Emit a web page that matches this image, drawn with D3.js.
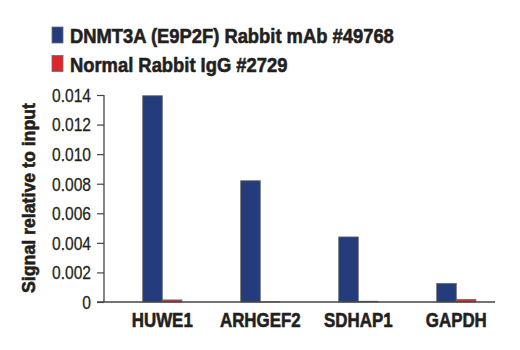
<!DOCTYPE html>
<html>
<head>
<meta charset="utf-8">
<script src="https://cdn.jsdelivr.net/npm/d3@7"></script>
<style>
  body { margin: 0; background: #fff; }
  svg { display: block; }
</style>
</head>
<body>
<svg width="520" height="350"></svg>
<script>
const categories = ["HUWE1", "ARHGEF2", "SDHAP1", "GAPDH"];
const seriesNames = ["DNMT3A (E9P2F) Rabbit mAb #49768", "Normal Rabbit IgG #2729"];
const dnmt3a = [0.01395, 0.0082, 0.0044, 0.00126];
const igg = [0.00014, 0.00001, 0.00005, 0.00018];
const yTicks = [0, 0.002, 0.004, 0.006, 0.008, 0.010, 0.012, 0.014];
const colors = ["#243c7c", "#e1262b"];

const font = "'Liberation Sans', Arial, sans-serif";
const ink = "#231f20";

const svg = d3.select("svg");

// squeeze text horizontally so it looks like a condensed face
function condense(sel, k) {
  sel.each(function() {
    const t = d3.select(this);
    const x0 = +t.attr("x") || 0, y0 = +t.attr("y") || 0;
    t.attr("x", 0).attr("y", 0)
      .attr("transform", (t.attr("transform") || "") + ` translate(${x0},${y0}) scale(${k},1)`);
  });
}

// heavier look, like the black condensed face of the original
function heavy(sel) {
  sel.style("font-weight", "bold")
    .attr("stroke", ink)
    .attr("stroke-width", 0.6)
    .attr("paint-order", "stroke");
}

const x = d3.scaleBand()
    .domain(categories)
    .range([113.3, 505.3])
    .paddingInner(0.6)
    .paddingOuter(0.3);

const xs = d3.scaleBand()
    .domain([0, 1])
    .range([0, x.bandwidth()]);

const y = d3.scaleLinear()
    .domain([0, 0.014])
    .range([302, 95]);

// bars
const groups = svg.append("g")
  .selectAll("g")
  .data(categories)
  .join("g")
    .attr("transform", d => `translate(${x(d)},0)`);

groups.selectAll("rect")
  .data((d, i) => [dnmt3a[i], igg[i]])
  .join("rect")
    .attr("x", (d, j) => xs(j))
    .attr("y", d => y(d))
    .attr("width", xs.bandwidth())
    .attr("height", d => y(0) - y(d))
    .attr("fill", (d, j) => colors[j])
    .attr("stroke", "#6b6b6b")
    .attr("stroke-width", 0.8);

// y axis
const yAxis = svg.append("g")
    .attr("transform", "translate(104,0)")
    .call(d3.axisLeft(y)
      .tickValues(yTicks)
      .tickSize(7)
      .tickPadding(6)
      .tickFormat(d => d === 0 ? "0" : d3.format(".3f")(d)));
yAxis.select(".domain").attr("stroke", "#444").attr("stroke-width", 1.3).attr("d", "M0,95V302");
yAxis.selectAll(".tick line").attr("stroke", "#444").attr("stroke-width", 1.2);
const tickText = yAxis.selectAll(".tick text")
    .attr("fill", ink)
    .attr("dy", "0.36em")
    .attr("stroke", ink)
    .attr("stroke-width", 0.25)
    .style("font-family", font)
    .style("font-size", "17.5px");
const kTick = 39 / tickText.filter(d => d === 0.014).node().getComputedTextLength();
condense(tickText, kTick);

// baseline
svg.append("line")
    .attr("x1", 97).attr("x2", 495)
    .attr("y1", y(0)).attr("y2", y(0))
    .attr("stroke", "#444").attr("stroke-width", 1.3);

// category labels
const catText = svg.append("g")
  .selectAll("text")
  .data(categories)
  .join("text")
    .attr("x", d => x(d) + x.bandwidth() / 2)
    .attr("y", 327)
    .attr("text-anchor", "middle")
    .attr("fill", ink)
    .style("font-family", font)
    .style("font-size", "20.5px")
    .text(d => d)
    .call(heavy);
condense(catText, 61 / catText.node().getComputedTextLength());

// y title
const title = svg.append("text")
    .attr("transform", "translate(35,198) rotate(-90)")
    .attr("text-anchor", "middle")
    .attr("fill", ink)
    .style("font-family", font)
    .style("font-size", "18.5px")
    .text("Signal relative to input")
    .call(heavy);
condense(title, 190 / title.node().getComputedTextLength());

// legend
const legend = svg.append("g")
  .selectAll("g")
  .data(seriesNames)
  .join("g")
    .attr("transform", (d, i) => `translate(52,${27 + i * 28.5})`);

legend.append("rect")
    .attr("width", 11)
    .attr("height", 16)
    .attr("fill", (d, i) => colors[i])
    .attr("stroke", "#6b6b6b")
    .attr("stroke-width", 0.8);

const legText = legend.append("text")
    .attr("x", 18)
    .attr("y", 16)
    .attr("fill", ink)
    .style("font-family", font)
    .style("font-size", "21px")
    .text(d => d)
    .call(heavy);
condense(legText, 324 / legText.node().getComputedTextLength());
</script>
</body>
</html>
